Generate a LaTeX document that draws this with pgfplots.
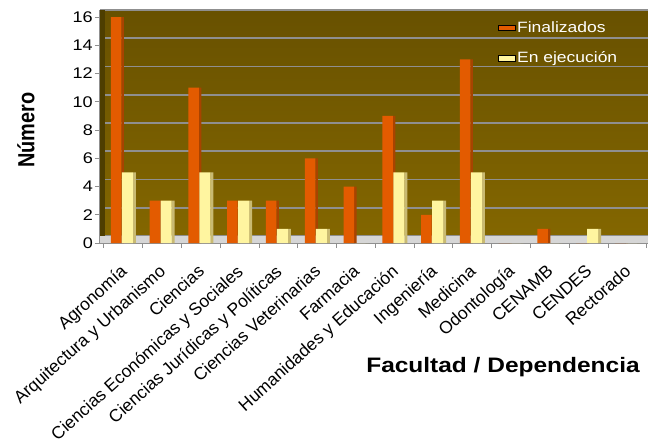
\documentclass[border=0pt]{standalone}
\usepackage{graphicx}
\usepackage{pgfplots}
\pgfplotsset{compat=1.18}
\usepackage{pgfplotstable}
\usepackage{fontspec}
\setmainfont{Liberation Sans}
\definecolor{oliveTop}{HTML}{685100}
\definecolor{oliveBot}{HTML}{846700}
\definecolor{wallL}{HTML}{4E3E00}
\definecolor{orangeF}{HTML}{E35B00}
\definecolor{orangeS}{HTML}{A84300}
\definecolor{yellowF}{HTML}{FFF5A0}
\definecolor{yellowS}{HTML}{C9BA72}
\definecolor{gridg}{HTML}{8F8F8F}
\definecolor{floorg}{HTML}{D6D6D6}
\newcommand{\sx}[1]{\scalebox{1.17}[1]{#1}}
\pgfplotstableread{
x fin eje
0 16 5
1 3 3
2 11 5
3 3 3
4 3 1
5 6 1
6 4 0
7 9 5
8 2 3
9 13 5
10 0 0
11 1 0
12 0 1
13 0 0
}\datatable
\begin{document}
\begin{tikzpicture}
\useasboundingbox (0,0) rectangle (648bp,445bp);
\begin{axis}[
  at={(100bp,202bp)}, anchor=south west,
  width=548bp, height=233bp, scale only axis,
  xmin=-0.603, xmax=13.53, ymin=0, ymax=16.5,
  ytick={0,2,...,16},
  ymajorgrids, grid style={gridg, line width=1.8bp, yshift=7bp},
  axis background/.style={top color=oliveTop, bottom color=oliveBot},
  axis line style={gridg, line width=1.2bp},
  axis x line*=bottom, axis y line*=left,
  xtick={0,...,13},
  xticklabels={Agronomía,Arquitectura y Urbanismo,Ciencias,Ciencias Económicas y Sociales,Ciencias Jurídicas y Políticas,Ciencias Veterinarias,Farmacia,Humanidades y Educación,Ingeniería,Medicina,Odontología,CENAMB,CENDES,Rectorado},
  major x tick style={draw=none},
  minor xtick={-0.5,0.5,...,13.5},
  minor x tick style={gridg, line width=1bp},
  minor tick length=5bp,
  tick align=outside,
  major y tick style={gridg, line width=1bp},
  major tick length=5bp,
  x tick label style={xshift=-4bp, yshift=-14bp, rotate=42, anchor=north east, font=\fontsize{17.5}{19}\selectfont, inner sep=1bp},
  y tick label style={font=\fontsize{15.5}{18}\selectfont, inner sep=2bp},
  yticklabel={\sx{\pgfmathprintnumber{\tick}}},
  /pgf/number format/assume math mode=true,
  ylabel={\textbf{Número}},
  ylabel style={font=\fontsize{20}{24}\selectfont, at={(axis description cs:-0.135,0.485)}, anchor=center, yscale=1.17},
  legend style={at={(axis description cs:0.7245,0.962)}, anchor=north west, draw=none, fill=none, text=white,
    font=\fontsize{15}{17}\selectfont, row sep=15bp, inner sep=1bp, nodes={inner sep=1.5bp}},
  legend cell align=left,
  legend image code/.code={\fill[#1, draw=none] (0bp,-4bp) rectangle (10bp,4bp);},
  clip=false,
]
\fill[floorg] (rel axis cs:0,0) rectangle ([yshift=7bp]rel axis cs:1,0);
\draw[gridg, line width=1bp] ([yshift=7bp]rel axis cs:0,0) -- ([yshift=7bp]rel axis cs:1,0);
\fill[wallL] ([yshift=7bp]rel axis cs:0,0) rectangle ([xshift=5bp]rel axis cs:0,1);
\addplot[ybar, bar width=2.5bp, bar shift=-0.75bp, fill=orangeS, draw=none, forget plot] table[x=x,y=fin]{\datatable};
\addplot[ybar, bar width=10.5bp, bar shift=-7.25bp, fill=orangeF, draw=none, area legend] table[x=x,y=fin]{\datatable};
\addplot[ybar, bar width=3bp, bar shift=11bp, fill=yellowS, draw=none, forget plot] table[x=x,y=eje]{\datatable};
\addplot[ybar, bar width=11bp, bar shift=4bp, fill=yellowF, draw=none, area legend] table[x=x,y=eje]{\datatable};
\legend{\sx{Finalizados}, \sx{En ejecución}}
\end{axis}
\node[font=\fontsize{21}{24}\selectfont\bfseries, anchor=base] at (503bp,72bp) {\sx{Facultad / Dependencia}};
\end{tikzpicture}
\end{document}
